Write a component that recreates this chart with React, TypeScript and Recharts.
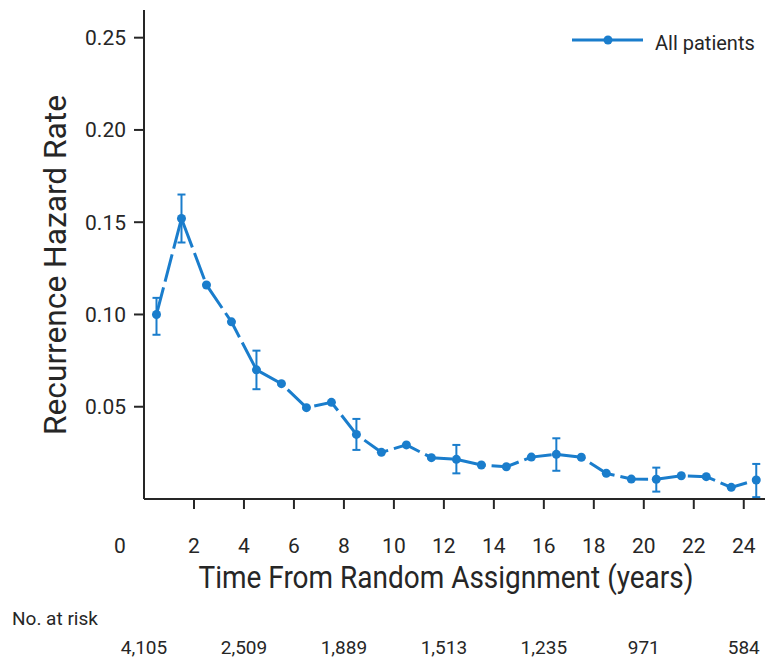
import { LineChart, Line, XAxis, YAxis, ErrorBar, Legend } from 'recharts'

const BLUE = '#1a7dcc'
const INK = '#262626'

// yearly intervals (midpoints) and estimated hazard rates
const years = [0.5, 1.5, 2.5, 3.5, 4.5, 5.5, 6.5, 7.5, 8.5, 9.5, 10.5, 11.5, 12.5, 13.5, 14.5, 15.5, 16.5, 17.5, 18.5, 19.5, 20.5, 21.5, 22.5, 23.5, 24.5]
const rates = [0.1, 0.152, 0.116, 0.096, 0.070, 0.0625, 0.0495, 0.0524, 0.035, 0.0253, 0.0293, 0.0224, 0.0215, 0.0184, 0.0175, 0.0227, 0.0242, 0.0226, 0.0139, 0.0108, 0.0107, 0.0126, 0.0121, 0.0063, 0.0103]
const ciLow = [0.089, 0.139, null, null, 0.0595, null, null, null, 0.0266, null, null, null, 0.0139, null, null, null, 0.0153, null, null, null, 0.004, null, null, null, 0.001]
const ciHigh = [0.109, 0.165, null, null, 0.0804, null, null, null, 0.0434, null, null, null, 0.0293, null, null, null, 0.0329, null, null, null, 0.017, null, null, null, 0.019]

const xTicks = [0, 2, 4, 6, 8, 10, 12, 14, 16, 18, 20, 22, 24]
const yTicks = [0.05, 0.1, 0.15, 0.2, 0.25]

const riskYears = [0, 4, 8, 12, 16, 20, 24]
const riskCounts = ['4,105', '2,509', '1,889', '1,513', '1,235', '971', '584']

const data = years.map((t, i) => ({
  t,
  rate: rates[i],
  err: ciLow[i] == null ? null : [rates[i] - (ciLow[i] as number), (ciHigh[i] as number) - rates[i]],
}))

const FONT = 'Roboto, "Noto Sans", sans-serif'

function XTick(props: any) {
  const { x, y, payload } = props
  const v = payload.value
  return (
    <g>
      {v !== 0 && <line x1={x} x2={x} y1={y - 26} y2={y - 16} stroke={INK} strokeWidth={2} />}
      <text x={v === 0 ? x - 24 : x} y={y + 28} textAnchor="middle" fontSize={21} fill={INK} fontFamily={FONT}>
        {v}
      </text>
    </g>
  )
}

function RiskTick(props: any) {
  const { x, payload } = props
  const label = riskCounts[riskYears.indexOf(payload.value)] || ''
  return (
    <text x={x} y={654} textAnchor="middle" fontSize={19} fill={INK} fontFamily={FONT}>
      {label}
    </text>
  )
}

function LegendBox() {
  return (
    <svg width={200} height={30}>
      <line x1={2} x2={73} y1={10} y2={10} stroke={BLUE} strokeWidth={3} />
      <circle cx={38} cy={10} r={4.5} fill={BLUE} />
      <text x={85} y={20} fontSize={20} fill={INK} fontFamily={FONT}>All patients</text>
    </svg>
  )
}

export default function App() {
  return (
    <div style={{ position: 'absolute', left: 0, top: 0, background: '#fff' }}>
      <LineChart width={768} height={661} data={data} margin={{ top: 10, right: 3, bottom: 2, left: 0 }}>
        <XAxis
          dataKey="t"
          type="number"
          domain={[0, 24.85]}
          ticks={xTicks}
          allowDataOverflow
          height={100}
          axisLine={{ stroke: INK, strokeWidth: 2 }}
          tickLine={false}
          tickSize={10}
          tickMargin={16}
          tick={<XTick />}
          label={{
            content: () => (
              <text x={446} y={588} textAnchor="middle" fontSize={32} fill={INK} fontFamily={FONT}
                textLength={495} lengthAdjust="spacingAndGlyphs">
                Time From Random Assignment (years)
              </text>
            ),
          }}
        />
        <XAxis
          xAxisId="risk"
          dataKey="t"
          type="number"
          domain={[0, 24.85]}
          ticks={riskYears}
          allowDataOverflow
          height={60}
          axisLine={false}
          tickLine={false}
          tick={<RiskTick />}
          label={{
            content: () => (
              <text x={12} y={625} fontSize={19} fill={INK} fontFamily={FONT}>No. at risk</text>
            ),
          }}
        />
        <YAxis
          type="number"
          domain={[0, 0.265]}
          ticks={yTicks}
          allowDataOverflow
          width={144}
          axisLine={{ stroke: INK, strokeWidth: 2 }}
          tickLine={{ stroke: INK, strokeWidth: 2 }}
          tickSize={10}
          tickMargin={8}
          tickFormatter={(v: number) => v.toFixed(2)}
          tick={{ fontSize: 21, fill: INK, fontFamily: FONT }}
          label={{
            content: () => (
              <text x={66} y={265} transform="rotate(-90 66 265)" textAnchor="middle" fontSize={32} fill={INK}
                fontFamily={FONT} textLength={340} lengthAdjust="spacingAndGlyphs">
                Recurrence Hazard Rate
              </text>
            ),
          }}
        />
        <Legend
          layout="horizontal"
          verticalAlign="middle"
          align="center"
          content={() => <LegendBox />}
          wrapperStyle={{ position: 'absolute', top: 30, left: 570, width: 200 }}
        />
        <Line
          dataKey="rate"
          name="All patients"
          stroke={BLUE}
          strokeWidth={3}
          strokeDasharray="28 6"
          dot={{ r: 4.5, fill: BLUE, stroke: BLUE, strokeWidth: 0 }}
          activeDot={false}
          isAnimationActive={false}
        >
          <ErrorBar dataKey="err" direction="y" width={4} stroke={BLUE} strokeWidth={2} isAnimationActive={false} />
        </Line>
      </LineChart>
    </div>
  )
}
